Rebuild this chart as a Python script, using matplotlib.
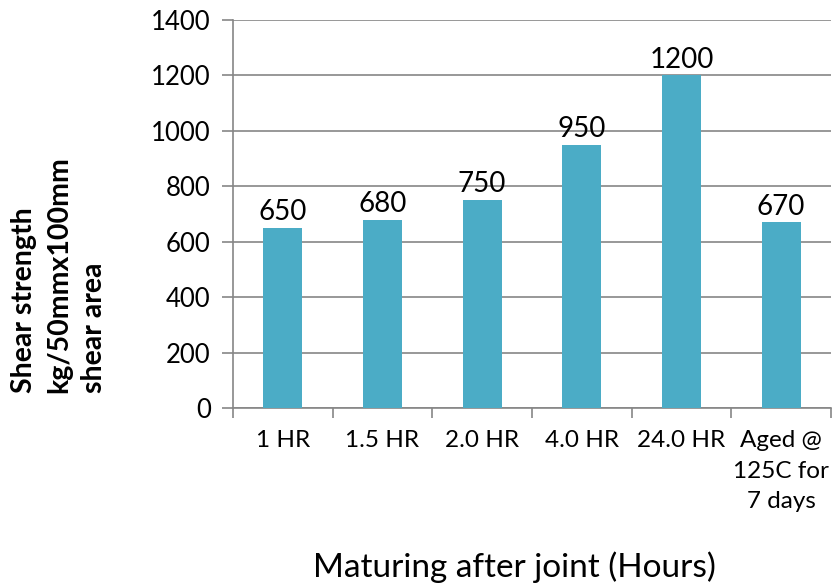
import matplotlib
matplotlib.use("Agg")
import matplotlib.pyplot as plt
import numpy as np

categories = ["1 HR", "1.5 HR", "2.0 HR", "4.0 HR", "24.0 HR", "Aged @\n125C for\n7 days"]
values = [650, 680, 750, 950, 1200, 670]
yticks = [0, 200, 400, 600, 800, 1000, 1200, 1400]

plt.rcParams['font.family'] = ['Lato', 'DejaVu Sans']

W, H = 832, 586
fig = plt.figure(figsize=(W/100, H/100), dpi=100)
ax = fig.add_axes([233/W, 1-408/H, (831-233)/W, (408-20)/H])

bar_color = '#4BACC6'
grid_color = '#868686'
x = np.arange(len(categories))
bars = ax.bar(x, values, width=0.39, color=bar_color, zorder=3)

for xi, v in zip(x, values):
    ax.text(xi, v + 10, str(v), ha='center', va='bottom', fontsize=20, color='#000000', zorder=4)

ax.set_xlim(-0.5, len(categories) - 0.5)
ax.set_ylim(0, 1400)
ax.set_yticks(yticks)
ax.set_yticklabels([str(t) for t in yticks], fontsize=18.5, color='#000000')
ax.yaxis.grid(True, color=grid_color, linewidth=1.2, zorder=0)
ax.set_axisbelow(True)

ax.set_xticks(np.arange(len(categories) + 1) - 0.5, minor=False)
ax.set_xticklabels([])
ax.set_xticks(x, minor=True)
ax.set_xticklabels(categories, minor=True, fontsize=17.5, color='#000000', linespacing=1.55, va='top')
ax.tick_params(axis='x', which='minor', length=0, pad=16)
ax.tick_params(axis='x', which='major', length=7, color=grid_color, width=1.2, direction='out')
ax.tick_params(axis='y', length=8, color=grid_color, width=1.2, direction='out', pad=8)

for s in ['top', 'right']:
    ax.spines[s].set_visible(False)
for s in ['left', 'bottom']:
    ax.spines[s].set_color(grid_color)
    ax.spines[s].set_linewidth(1.2)

fig.text(59/W, 1-393/H, "Shear strength\nkg/50mmx100mm\nshear area", rotation=90,
         ha='center', va='bottom', multialignment='left', fontsize=20.5, fontweight='bold',
         color='#000000', linespacing=1.42)

fig.text(514/W, 1-567/H, "Maturing after joint (Hours)", ha='center', va='center',
         fontsize=24, color='#000000')

fig.savefig("out.png", dpi=100)
